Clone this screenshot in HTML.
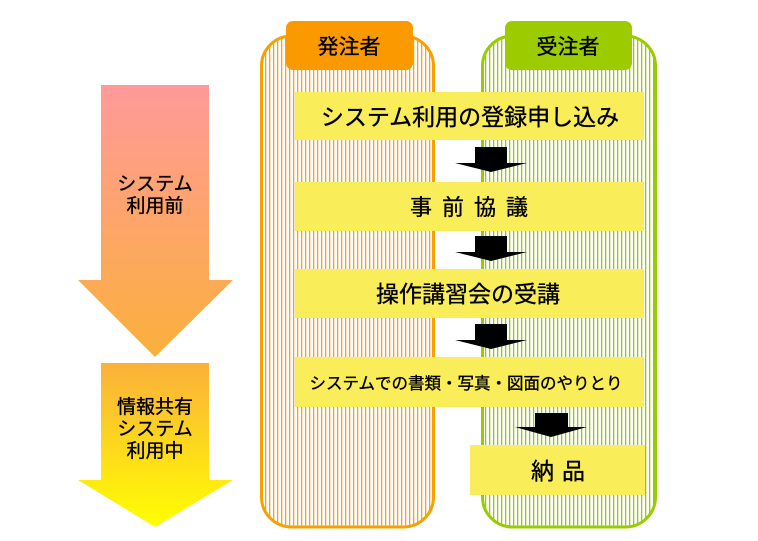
<!DOCTYPE html>
<html><head><meta charset="utf-8"><style>
html,body{margin:0;padding:0;background:#fff;}
svg text{font-family:"Liberation Sans","Noto Sans CJK JP",sans-serif;fill:#000;stroke:#000;stroke-width:0.35;}
</style></head><body>
<svg width="758" height="536" viewBox="0 0 758 536" xmlns="http://www.w3.org/2000/svg">
<defs>
<linearGradient id="g1" x1="0" y1="0" x2="0" y2="1">
<stop offset="0" stop-color="#ff9a9a"/><stop offset="1" stop-color="#fbb03b"/></linearGradient>
<linearGradient id="g2" x1="0" y1="0" x2="0" y2="1">
<stop offset="0" stop-color="#fbb03b"/><stop offset="1" stop-color="#ffff00"/></linearGradient>
<pattern id="po" width="4" height="10" patternUnits="userSpaceOnUse"><rect width="4" height="10" fill="#fff"/><rect x="1" width="1.3" height="10" fill="#f7a21e"/></pattern>
<pattern id="pg" width="4" height="10" patternUnits="userSpaceOnUse"><rect width="4" height="10" fill="#fff"/><rect x="1" width="1.3" height="10" fill="#99cc00"/></pattern>
</defs>
<polygon points="101,85 209,85 209,280 233,280 155,357 78,280 101,280" fill="url(#g1)"/>
<polygon points="101,363 209,363 209,480 233,480 155,527 78,480 101,480" fill="url(#g2)"/>
<text x="155" y="190" font-size="19" text-anchor="middle">システム</text>
<text x="155" y="212" font-size="19" text-anchor="middle">利用前</text>
<text x="155" y="413" font-size="19" text-anchor="middle">情報共有</text>
<text x="155" y="435" font-size="19" text-anchor="middle">システム</text>
<text x="155" y="457" font-size="19" text-anchor="middle">利用中</text>

<rect x="261.5" y="36" width="172" height="491" rx="30" fill="url(#po)" stroke="#f7a000" stroke-width="3"/>
<rect x="482.5" y="36" width="173" height="491" rx="30" fill="url(#pg)" stroke="#99cc00" stroke-width="3"/>
<rect x="286" y="21" width="127" height="49" rx="7" fill="#fb9a00"/>
<rect x="505" y="21" width="127" height="49" rx="7" fill="#9ccc00"/>
<text x="349" y="54" font-size="21" text-anchor="middle">発注者</text>
<text x="568" y="54" font-size="21" text-anchor="middle">受注者</text>

<g fill="#f9ed5a">
<rect x="295" y="92" width="349" height="48"/>
<rect x="295" y="182" width="349" height="49"/>
<rect x="295" y="269" width="349" height="49"/>
<rect x="295" y="357" width="349" height="50"/>
<rect x="470" y="445" width="175" height="50"/>
</g>
<text x="470" y="125" font-size="23" text-anchor="middle">システム利用の登録申し込み</text>
<text x="474" y="215" font-size="22" text-anchor="middle" letter-spacing="10">事前協議</text>
<text x="468" y="302" font-size="23" text-anchor="middle">操作講習会の受講</text>
<text x="466" y="389" font-size="16.5" text-anchor="middle">システムでの書類・写真・図面のやりとり</text>
<text x="562" y="479" font-size="23" text-anchor="middle" letter-spacing="8">納品</text>

<g fill="#000">
<polygon points="475,147 507,147 507,163 527,163 491,172 455,163 475,163"/>
<polygon points="475,236 507,236 507,252 527,252 491,261 455,252 475,252"/>
<polygon points="475,324 507,324 507,340 527,340 491,349 455,340 475,340"/>
<polygon points="535,413 568,413 568,427 587,427 551,437 515,427 535,427"/>
</g>
</svg>
</body></html>
